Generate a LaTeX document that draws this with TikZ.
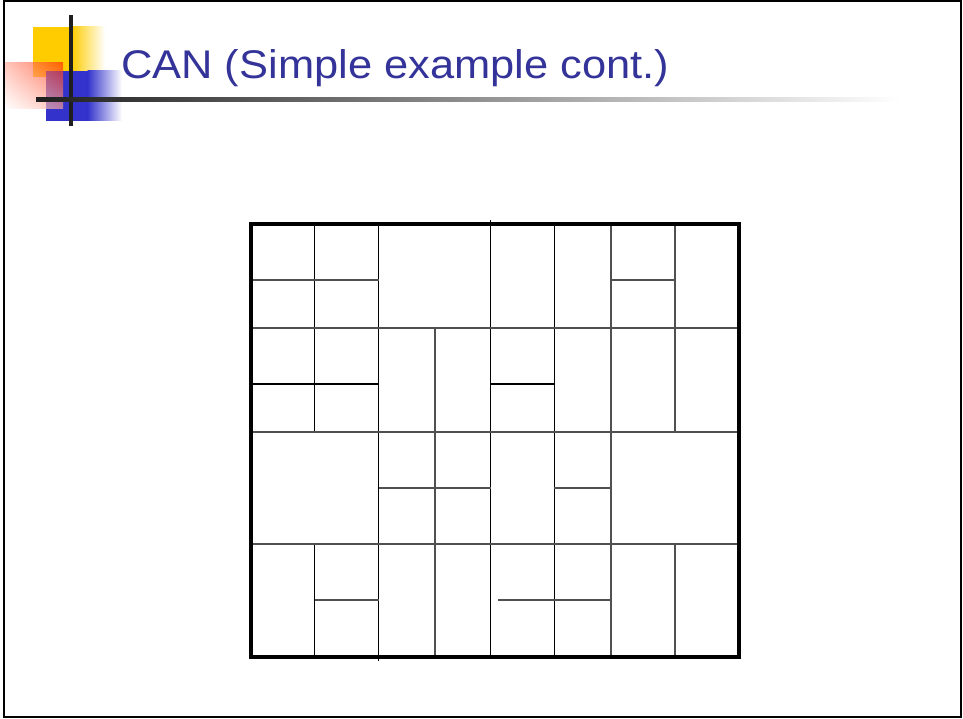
\documentclass[tikz,border=0pt]{standalone}
\usepackage{fontspec}
\setmainfont{Liberation Sans}
\usetikzlibrary{shadings}
\definecolor{titleblue}{RGB}{51,51,153}
\definecolor{logoyellow}{RGB}{255,204,0}
\definecolor{logoblue}{RGB}{51,51,204}
\definecolor{logored}{RGB}{255,40,0}
\definecolor{gridgray}{RGB}{80,80,80}
\tikzset{
  gline/.style={line width=1.5pt, draw=black},
  gglin/.style={line width=1.6pt, draw=gridgray},
  outerbox/.style={line width=3.4pt, draw=black},
}
\begin{document}
\begin{tikzpicture}[x=1pt,y=-1pt]
\useasboundingbox (0,0) rectangle (963,719);
% slide frame
\draw[line width=2pt] (4,1) rectangle (961,717);
% logo
\fill[logoyellow] (33,27) rectangle (72,77);
\shade[left color=logoyellow, right color=white] (71.5,27) rectangle (105,77);
\fill[logoblue] (46,71) rectangle (88,121);
\shade[left color=logoblue, right color=white] (87.5,71) rectangle (122,121);
\shade[opacity=0.65, upper right=logored, upper left=logored!40!white, lower right=logored!40!white, lower left=white] (5,63) rectangle (63,109);
\fill[black!88] (69,15) rectangle (73,126);
\shade[left color=black!88, right color=white] (36,98) rectangle (900,102);
% title
\node[anchor=base west, text=titleblue, font=\fontsize{40}{48}\selectfont, inner sep=0pt] (title) at (121,78.5) {\scalebox{1.086}[1]{CAN (Simple example cont.)}};
% grid verticals
\draw[gline] (314.7,224) -- (314.7,431.7);
\draw[gline] (314.7,544) -- (314.7,657);
\draw[gline] (378.7,224) -- (378.7,660.7);
\draw[gglin] (434.7,327.7) -- (434.7,657);
\draw[gline] (490.7,220) -- (490.7,657);
\draw[gline] (554.3,224) -- (554.3,657);
\draw[gglin] (610.7,224) -- (610.7,657);
\draw[gglin] (674.7,224) -- (674.7,431.7);
\draw[gglin] (674.7,544) -- (674.7,657);
% grid horizontals
\draw[gglin] (251,280) -- (378.7,280);
\draw[gglin] (610.7,280) -- (674.7,280);
\draw[gglin] (251,327.7) -- (739,327.7);
\draw[gline] (251,384) -- (378.7,384);
\draw[gline] (490.7,384) -- (554.3,384);
\draw[gglin] (251,431.7) -- (739,431.7);
\draw[gglin] (378.7,488) -- (490.7,488);
\draw[gglin] (554.3,488) -- (610.7,488);
\draw[gglin] (251,544) -- (739,544);
\draw[gglin] (314.7,600) -- (378.7,600);
\draw[gglin] (498,600) -- (610.7,600);
% outer box
\draw[outerbox] (251,224) rectangle (739,657);
\end{tikzpicture}
\end{document}
